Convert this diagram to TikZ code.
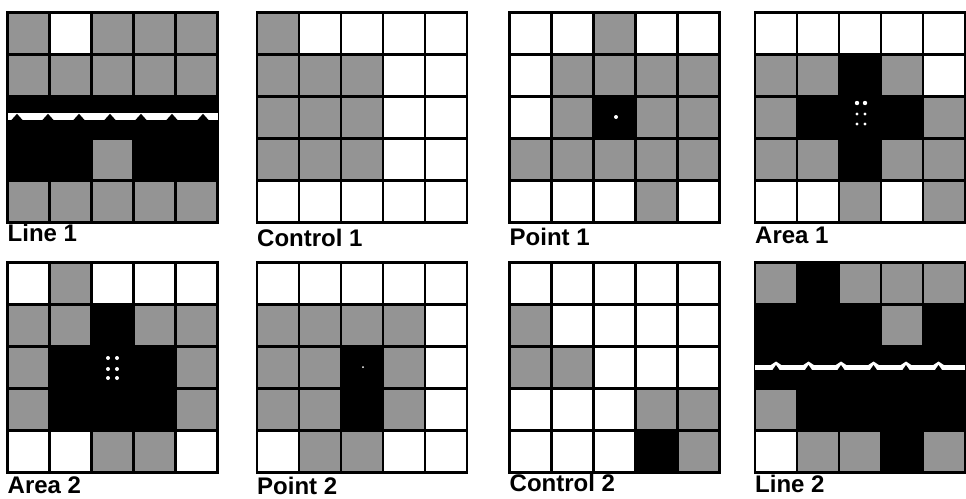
\documentclass[tikz,border=0pt]{standalone}
\usepackage{fontspec}
\setmainfont{Liberation Sans}
\definecolor{halftone}{gray}{0.58}
\tikzset{
	cellW/.style={fill=white},
	cellG/.style={fill=halftone},
	cellB/.style={fill=black},
	gridline/.style={draw=black, line width=2.2pt},
	frameline/.style={draw=black, line width=2.6pt},
	whitemark/.style={fill=white, draw=none},
	panellabel/.style={anchor=base west, inner sep=0pt, font=\fontsize{24}{26}\selectfont\bfseries},
}
% one 5x5 panel: #1 = left, #2 = top, #3 = rows of cells (W, G, B)
\newcommand{\cellpanel}[3]{%
	\foreach \rowcells [count=\r from 0] in {#3} {
		\foreach \cl [count=\k from 0] in \rowcells {
			\path[cell\cl] ({#1+42*\k},{#2+42*\r}) rectangle +(42,42);
		}
	}
	\foreach \i in {1,...,4} {
		\draw[gridline] ({#1+42*\i},#2) -- +(0,210);
		\draw[gridline] (#1,{#2+42*\i}) -- +(210,0);
	}
	\draw[frameline] (#1,#2) rectangle +(210,210);
	% dark cells run together over the grid lines
	\foreach \rowcells [count=\r from 0] in {#3} {
		\foreach \cl [count=\k from 0] in \rowcells {
			\if\cl B\fill[cellB] ({#1+42*\k-1.3},{#2+42*\r-1.3}) rectangle +(44.6,44.6);\fi
		}
	}
}

\begin{document}
\begin{tikzpicture}[x=1pt, y=-1pt]
		\useasboundingbox[fill=white] (0,0) rectangle (966,498);
		% top row
		\cellpanel{7.5}{12.5}{{G,W,G,G,G},{G,G,G,G,G},{B,B,B,B,B},{B,B,G,B,B},{G,G,G,G,G}}
		\cellpanel{257}{12.5}{{G,W,W,W,W},{G,G,G,W,W},{G,G,G,W,W},{G,G,G,W,W},{W,W,W,W,W}}
		\cellpanel{509.5}{12.5}{{W,W,G,W,W},{W,G,G,G,G},{W,G,B,G,G},{G,G,G,G,G},{W,W,W,G,W}}
		\cellpanel{755}{12.5}{{W,W,W,W,W},{G,G,B,G,W},{G,B,B,B,G},{G,G,B,G,G},{W,W,G,W,G}}
		% bottom row
		\cellpanel{7.5}{262.5}{{W,G,W,W,W},{G,G,B,G,G},{G,B,B,B,G},{G,B,B,B,G},{W,W,G,G,W}}
		\cellpanel{257}{262.5}{{W,W,W,W,W},{G,G,G,G,W},{G,G,B,G,W},{G,G,B,G,W},{W,G,G,W,W}}
		\cellpanel{509.5}{262.5}{{W,W,W,W,W},{G,W,W,W,W},{G,G,W,W,W},{W,W,W,G,G},{W,W,W,B,G}}
		\cellpanel{755}{262.5}{{G,B,G,G,G},{B,B,B,G,B},{B,B,B,B,B},{G,B,B,B,B},{W,G,G,B,G}}

		% line marks
		\fill[whitemark] (7.5,113) rectangle (217.5,120);
		\foreach \px in {0,...,6}
			\fill[black] ({17+31*\px-6},120.5) -- ({17+31*\px},113.8) -- ({17+31*\px+6},120.5) -- cycle;
		\fill[whitemark] (755,365) rectangle (965,370);
		\foreach \px in {0,...,5} {
			\fill[whitemark] ({776+32.5*\px-6},365.5) -- ({776+32.5*\px},361.5) -- ({776+32.5*\px+6},365.5) -- cycle;
			\fill[black] ({776+32.5*\px-3.5},370) -- ({776+32.5*\px},365) -- ({776+32.5*\px+3.5},370) -- cycle;
		}

		% centre dots
		\fill[whitemark] (616,117) circle (2);
		\fill[whitemark] (363,367) circle (1);
		\foreach \dx in {857,865}
			\foreach \dy/\rad in {103/2.2,114/1.6,124/1.6}
				\fill[whitemark] (\dx,\dy) circle (\rad);
		\foreach \dx in {108,117}
			\foreach \dy in {358,369,378}
				\fill[whitemark] (\dx,\dy) circle (2);

		% labels
		\node[panellabel] (line1) at (7.5,241) {Line 1};
		\node[panellabel] (control1) at (257,246) {Control 1};
		\node[panellabel] (point1) at (509.5,245) {Point 1};
		\node[panellabel] (area1) at (755,243) {Area 1};
		\node[panellabel] (area2) at (7.5,493) {Area 2};
		\node[panellabel] (point2) at (257,494) {Point 2};
		\node[panellabel] (control2) at (509.5,491) {Control 2};
		\node[panellabel] (line2) at (755,492) {Line 2};
	\end{tikzpicture}
\end{document}
